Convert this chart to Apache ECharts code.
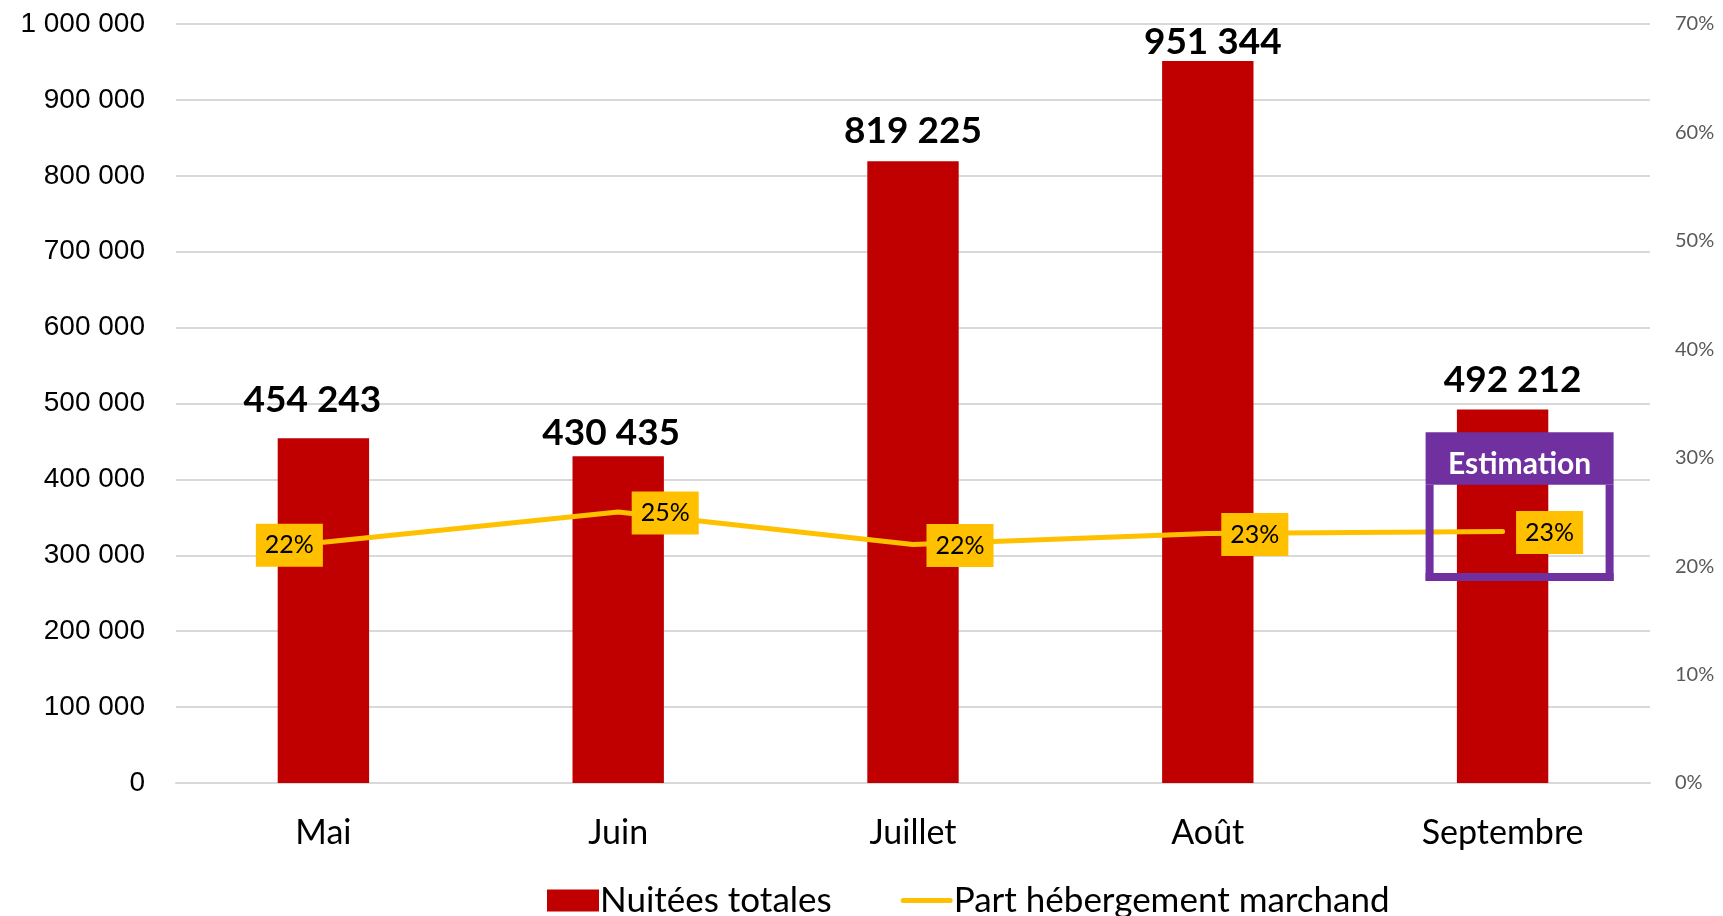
<!DOCTYPE html>
<html>
<head>
<meta charset="utf-8">
<script src="https://cdn.jsdelivr.net/npm/echarts@6/dist/echarts.min.js"></script>
<style>html,body{margin:0;padding:0;background:#fff}#c{width:1723px;height:916px}</style>
</head>
<body>
<div id="c"></div>
<script>
const categories = ['Mai', 'Juin', 'Juillet', 'Août', 'Septembre'];
const nuitees = [454243, 430435, 819225, 951344, 492212];
const partMarchand = [0.222, 0.250, 0.220, 0.230, 0.232];
const leftTicks = { min: 0, max: 1000000, interval: 100000 };
const rightTicks = { min: 0, max: 0.7, interval: 0.1 };
const estimationCategory = 'Septembre';
// label placement tweaks (as placed in the original)
const barLabelDistance = [20, 5, 12, 0, 11];
const barLabelShift = [-11, -7, 0, 5, 10];

function fmtSpace(v) {
  return String(Math.round(v)).replace(/\B(?=(\d{3})+(?!\d))/g, ' ');
}

const lineIcon = 'path://M0,0h0.01v0.01h-0.01Z M51.99,21.99h0.01v0.01h-0.01Z M2.5,8.5 H49.5 A2.5,2.5 0 0 1 49.5,13.5 H2.5 A2.5,2.5 0 0 1 2.5,8.5 Z';

const chart = echarts.init(document.getElementById('c'));
const option = {
  animation: false,
  backgroundColor: '#ffffff',
  grid: { left: 176, right: 73, top: 24, bottom: 133 },
  legend: {
    top: 878,
    left: 542,
    itemGap: 69,
    itemWidth: 52,
    itemHeight: 22,
    textStyle: { fontFamily: 'Lato', fontSize: 35, color: '#000', padding: [0, 0, 0, -4] },
    data: [
      { name: 'Nuitées totales', icon: 'rect' },
      { name: 'Part hébergement marchand', icon: lineIcon, itemStyle: { color: '#FFC000', opacity: 1 } }
    ]
  },
  xAxis: {
    type: 'category',
    data: categories,
    axisTick: { show: false },
    axisLine: { show: true, lineStyle: { color: '#d9d9d9', width: 2 } },
    axisLabel: { fontFamily: 'Lato', fontSize: 34, color: '#000', margin: 33 }
  },
  yAxis: [
    {
      type: 'value',
      min: leftTicks.min, max: leftTicks.max, interval: leftTicks.interval,
      axisLine: { show: false }, axisTick: { show: false },
      splitLine: { lineStyle: { color: '#d9d9d9', width: 2 } },
      axisLabel: { fontFamily: 'Liberation Sans', fontSize: 28, color: '#000', margin: 31, formatter: fmtSpace }
    },
    {
      type: 'value',
      min: rightTicks.min, max: rightTicks.max, interval: rightTicks.interval,
      axisLine: { show: false }, axisTick: { show: false },
      splitLine: { show: false },
      axisLabel: { fontFamily: 'Lato', fontSize: 20, color: '#595959', margin: 25,
        formatter: v => Math.round(v * 100) + '%' }
    }
  ],
  series: [
    {
      name: 'Nuitées totales',
      type: 'bar',
      data: nuitees.map((v, i) => ({
        value: v,
        label: { distance: barLabelDistance[i], offset: [barLabelShift[i], 0] }
      })),
      barWidth: '31%',
      itemStyle: { color: '#C00000' },
      z: 2,
      label: {
        show: true, position: 'top',
        fontFamily: 'Lato', fontWeight: 'bold', fontSize: 37, color: '#000',
        formatter: p => fmtSpace(p.value)
      }
    },
    {
      name: 'Part hébergement marchand',
      type: 'line',
      yAxisIndex: 1,
      data: partMarchand.map((v, i) => ({
        value: v,
        label: i === 0 ? { position: 'left', distance: 0, offset: [0, 3] } : { position: 'right', distance: 13, offset: [0, 1] }
      })),
      symbol: 'circle',
      symbolSize: 1,
      showSymbol: true,
      itemStyle: { color: 'rgba(255,192,0,0)' },
      lineStyle: { color: '#FFC000', width: 5, cap: 'round' },
      z: 5,
      label: {
        show: true,
        fontFamily: 'Lato', fontSize: 25, lineHeight: 27, color: '#000',
        backgroundColor: '#FFC000',
        padding: [8, 9, 8, 9],
        formatter: p => Math.round(p.value * 100) + '%'
      }
    }
  ]
};
chart.setOption(option);

// Estimation annotation box, positioned from the axes
const cx = chart.convertToPixel({ xAxisIndex: 0 }, estimationCategory);
const yTop = chart.convertToPixel({ yAxisIndex: 0 }, 462000);
const yHead = chart.convertToPixel({ yAxisIndex: 0 }, 393000);
const yBot = chart.convertToPixel({ yAxisIndex: 0 }, 266000);
const bx = cx - 77, bw = 188, bt = 8;
chart.setOption({
  graphic: [
    { type: 'rect', z: 10, shape: { x: bx, y: yTop, width: bw, height: yHead - yTop }, style: { fill: '#7030A0' } },
    { type: 'rect', z: 10, shape: { x: bx, y: yHead, width: bt, height: yBot - yHead }, style: { fill: '#7030A0' } },
    { type: 'rect', z: 10, shape: { x: bx + bw - bt, y: yHead, width: bt, height: yBot - yHead }, style: { fill: '#7030A0' } },
    { type: 'rect', z: 10, shape: { x: bx, y: yBot - bt, width: bw, height: bt }, style: { fill: '#7030A0' } },
    { type: 'text', z: 11, style: { text: 'Estimation', x: bx + bw / 2, y: (yTop + yHead) / 2 + 6,
        align: 'center', verticalAlign: 'middle', fill: '#fff',
        font: 'bold 30px Lato' } }
  ]
});
</script>
</body>
</html>
